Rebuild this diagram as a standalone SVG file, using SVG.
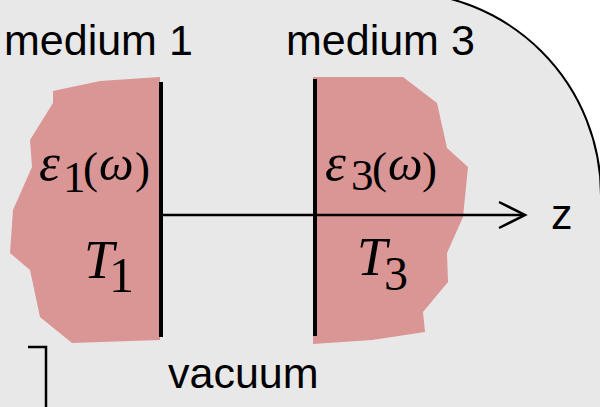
<svg xmlns="http://www.w3.org/2000/svg" width="600" height="407" viewBox="0 0 600 407">
<style>
.lbl{font-family:"Liberation Sans",Arial,sans-serif;font-size:43px;fill:#000}
.math{font-family:"Liberation Serif","Times New Roman",serif;fill:#000}
.it{font-style:italic}
.gr{font-style:italic;font-size:53px}
.om{font-style:italic;font-size:49px}
.blob{fill:#da9595;stroke:none}
.wall{stroke:#000;stroke-width:4;fill:none}
.ln{stroke:#000;fill:none;stroke-width:2.5}
</style>
<rect x="0" y="0" width="600" height="407" fill="#e8e8e8"/>
<path d="M398,-8 A203,203 0 0 1 601,195 L620,195 L620,-20 L398,-20 Z" fill="#ffffff"/>
<path d="M398,-8 A203,203 0 0 1 601,195 L601,420" fill="none" stroke="#000" stroke-width="2"/>
<g id="medium1">
<polygon class="blob" points="160,77 100,81 53,91 53,103 30,140 32,167 13,210 10,253 30,270 40,317 72,343 160,340"/>
<line class="wall" x1="161" y1="82" x2="161" y2="337"/>
<text class="lbl" x="4" y="55">medium 1</text>
<text class="math" font-size="45"><tspan class="gr" x="39" y="180">ε</tspan><tspan x="63" y="192">1</tspan><tspan x="83" y="183">(</tspan><tspan class="om" x="99" y="180">ω</tspan><tspan x="135" y="183">)</tspan></text>
<text class="math"><tspan class="it" font-size="54" x="84" y="278">T</tspan><tspan font-size="50" x="109" y="292">1</tspan></text>
</g>
<g id="medium3">
<polygon class="blob" points="313,77 403,77 437,103 447,148 468,167 463,217 447,253 448,282 423,312 425,332 372,340 313,344"/>
<line class="wall" x1="315" y1="79" x2="315" y2="336"/>
<text class="lbl" x="286" y="55">medium 3</text>
<text class="math" font-size="45"><tspan class="gr" x="325" y="180">ε</tspan><tspan x="351" y="190">3</tspan><tspan x="372" y="183">(</tspan><tspan class="om" x="388" y="180">ω</tspan><tspan x="422" y="183">)</tspan></text>
<text class="math"><tspan class="it" font-size="54" x="357" y="275">T</tspan><tspan font-size="48" x="384" y="290">3</tspan></text>
</g>
<g id="vacuum">
<text class="lbl" x="168" y="388">vacuum</text>
</g>
<g id="connectors">
<line class="ln" x1="161" y1="215" x2="524" y2="215"/>
<polyline class="ln" points="499,202 525,215 499,228"/>
<text class="lbl" x="551" y="229">z</text>
<polyline class="ln" points="28,347 46,347 46,410"/>
</g>
</svg>
